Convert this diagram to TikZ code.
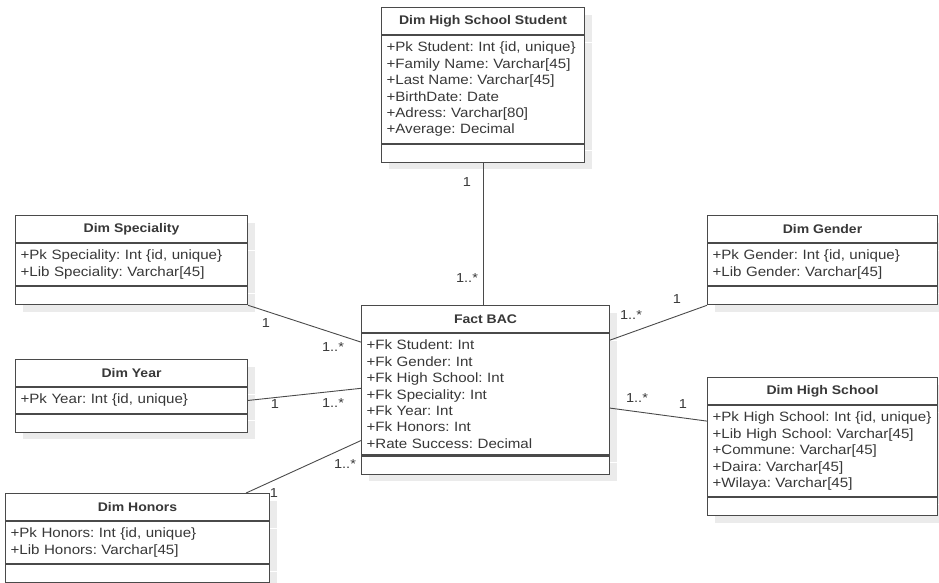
\documentclass[tikz,border=0pt]{standalone}
\usepackage{fontspec}
\setmainfont{Liberation Sans}[FakeStretch=1.12]
\usetikzlibrary{positioning,calc,shadows}
\definecolor{umlline}{HTML}{4A4A4A}
\definecolor{umltext}{HTML}{383838}
\definecolor{umlshade}{HTML}{EBEBEB}
\begin{document}
\frenchspacing
\begin{tikzpicture}[x=1pt, y=-1pt, font=\fontsize{13.5}{16.4}\selectfont,
  box/.style={draw=umlline, line width=1.1pt, fill=white, text=umltext,
    drop shadow={shadow xshift=7pt, shadow yshift=-7pt, fill=umlshade, opacity=1}},
  ctitle/.style={box, anchor=north west, minimum width=#1, minimum height=27pt, align=center,
    font=\fontsize{12.5}{15}\selectfont\bfseries},
  cattr/.style={box, text width=#1-10pt, inner xsep=5pt, inner ysep=6.5pt, align=left},
  cops/.style={box, minimum width=#1, minimum height=18pt, inner sep=0pt},
  assoc/.style={draw=umlline, line width=0.9pt},
  mult/.style={text=umltext, inner sep=1pt, font=\fontsize{13}{15}\selectfont}]
  \useasboundingbox (0,0) rectangle (939,582);
  \clip (0,0) rectangle (939,582);
  % dimension tables
  \node[ctitle=203pt] (stu-t) at (381,7) {Dim High School Student};
  \node[cattr=203pt, below=0pt of stu-t] (stu-a) {+Pk Student: Int \{id, unique\}\\+Family Name: Varchar[45]\\+Last Name: Varchar[45]\\+BirthDate: Date\\+Adress: Varchar[80]\\+Average: Decimal};
  \node[cops=203pt, below=0pt of stu-a] (stu-o) {};

  \node[ctitle=232pt] (spe-t) at (15,215) {Dim Speciality};
  \node[cattr=232pt, below=0pt of spe-t] (spe-a) {+Pk Speciality: Int \{id, unique\}\\+Lib Speciality: Varchar[45]};
  \node[cops=232pt, below=0pt of spe-a] (spe-o) {};

  \node[ctitle=232pt] (yea-t) at (15,359) {Dim Year};
  \node[cattr=232pt, below=0pt of yea-t] (yea-a) {+Pk Year: Int \{id, unique\}};
  \node[cops=232pt, below=0pt of yea-a] (yea-o) {};

  \node[ctitle=264pt] (hon-t) at (5,493) {Dim Honors};
  \node[cattr=264pt, below=0pt of hon-t] (hon-a) {+Pk Honors: Int \{id, unique\}\\+Lib Honors: Varchar[45]};
  \node[cops=264pt, below=0pt of hon-a] (hon-o) {};

  \node[ctitle=230pt] (gen-t) at (707,215) {Dim Gender};
  \node[cattr=230pt, below=0pt of gen-t] (gen-a) {+Pk Gender: Int \{id, unique\}\\+Lib Gender: Varchar[45]};
  \node[cops=230pt, below=0pt of gen-a] (gen-o) {};

  \node[ctitle=230pt] (hsc-t) at (707,377) {Dim High School};
  \node[cattr=230pt, below=0pt of hsc-t] (hsc-a) {+Pk High School: Int \{id, unique\}\\+Lib High School: Varchar[45]\\+Commune: Varchar[45]\\+Daira: Varchar[45]\\+Wilaya: Varchar[45]};
  \node[cops=230pt, below=0pt of hsc-a] (hsc-o) {};

  % fact table
  \node[ctitle=248pt] (fac-t) at (361,305) {Fact BAC};
  \node[cattr=248pt, below=0pt of fac-t] (fac-a) {+Fk Student: Int\\+Fk Gender: Int\\+Fk High School: Int\\+Fk Speciality: Int\\+Fk Year: Int\\+Fk Honors: Int\\+Rate Success: Decimal};
  \node[cops=248pt, below=0pt of fac-a] (fac-o) {};

  % associations
  \draw[assoc] (stu-o.south) -- (stu-o.south |- fac-t.north);
  \draw[assoc] (spe-o.south east) -- ($(fac-a.north west)+(0,9)$);
  \draw[assoc] (yea-a.east) -- ($(fac-a.west)+(0,-6)$);
  \draw[assoc] ($(hon-t.north east)+(-24,0)$) -- ($(fac-a.south west)+(0,-15)$);
  \draw[assoc] ($(fac-a.north east)+(0,7)$) -- (gen-o.south west);
  \draw[assoc] ($(fac-a.north east)+(0,75)$) -- ($(hsc-a.north west)+(0,16)$);
  % multiplicities
  \node[mult] (m-stu) at (467,182) {1};
  \node[mult] (m-fst) at (467,278) {1..*};
  \node[mult] (m-spe) at (266,323) {1};
  \node[mult] (m-fsp) at (333,347) {1..*};
  \node[mult] (m-yea) at (275,404) {1};
  \node[mult] (m-fye) at (333,403) {1..*};
  \node[mult] (m-hon) at (274,493) {1};
  \node[mult] (m-fho) at (345,464) {1..*};
  \node[mult] (m-gen) at (677,299) {1};
  \node[mult] (m-fge) at (631,315) {1..*};
  \node[mult] (m-hsc) at (683,404) {1};
  \node[mult] (m-fhs) at (637,398) {1..*};
\end{tikzpicture}
\end{document}
